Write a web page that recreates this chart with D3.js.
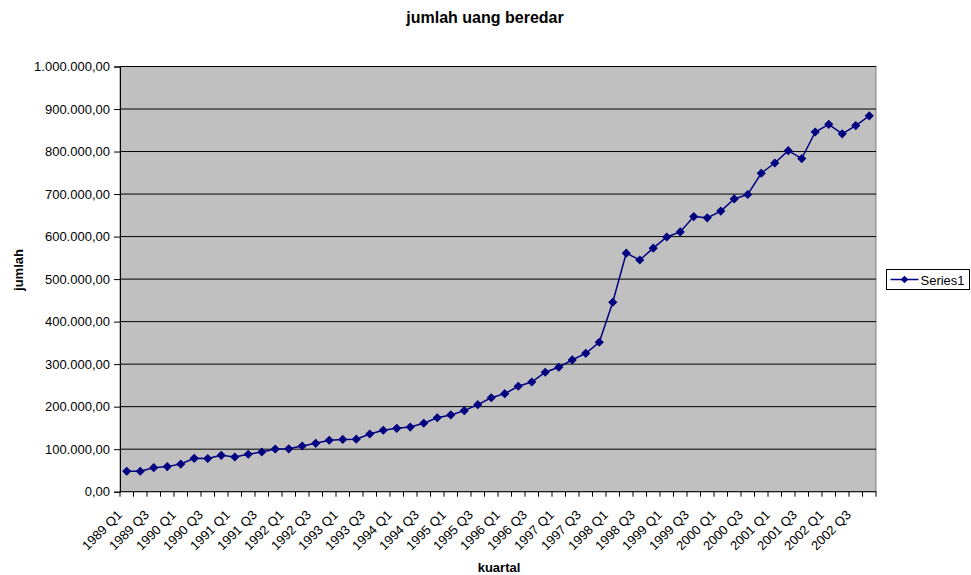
<!DOCTYPE html>
<html>
<head>
<meta charset="utf-8">
<script src="https://cdn.jsdelivr.net/npm/d3@7/dist/d3.min.js"></script>
<style>
  html, body { margin: 0; padding: 0; background: #ffffff; }
  svg { display: block; font-family: "Liberation Sans", Arial, sans-serif; }
</style>
</head>
<body>
<svg id="chart" width="971" height="575"></svg>
<script>
// Quarterly money supply (jumlah uang beredar), 1989 Q1 – 2002 Q4
const years = [1989, 1990, 1991, 1992, 1993, 1994, 1995, 1996, 1997, 1998, 1999, 2000, 2001, 2002];
const quarters = ["Q1", "Q2", "Q3", "Q4"];
const categories = years.flatMap(y => quarters.map(q => `${y} ${q}`));

const values = [
  48000, 48000, 56500, 59000, 65000, 78500, 78000, 85600,
  81600, 88000, 93400, 100400, 100800, 107500, 113800, 121000,
  123000, 123500, 135700, 144500, 149000, 152000, 161000, 174000,
  180500, 190600, 204700, 221000, 230600, 248000, 258000, 281000,
  292700, 310000, 325500, 351500, 445600, 561000, 545000, 572700,
  599000, 611000, 647000, 644000, 660000, 688500, 699000, 749000,
  773000, 802000, 783500, 846000, 864000, 841600, 861000, 884000
];

const yTicks = [0, 100000, 200000, 300000, 400000, 500000, 600000, 700000, 800000, 900000, 1000000];
const seriesName = "Series1";

const svg = d3.select("#chart");
const plot = { left: 120, right: 876, top: 66.5, bottom: 491.7 };

const x = d3.scaleBand().domain(categories).range([plot.left, plot.right]).paddingInner(0).paddingOuter(0);
const y = d3.scaleLinear().domain([0, 1000000]).range([plot.bottom, plot.top]);

const idLocale = d3.formatLocale({ decimal: ",", thousands: ".", grouping: [3], currency: ["", ""] });
const fmt = idLocale.format(",.2f");

// plot area background
svg.append("rect")
  .attr("x", plot.left).attr("y", plot.top)
  .attr("width", plot.right - plot.left).attr("height", plot.bottom - plot.top)
  .attr("fill", "#c0c0c0").attr("stroke", "#808080").attr("stroke-width", 1);

// horizontal gridlines
svg.append("g").selectAll("line").data(yTicks.filter(d => d > 0)).join("line")
  .attr("x1", plot.left).attr("x2", plot.right)
  .attr("y1", d => y(d)).attr("y2", d => y(d))
  .attr("stroke", "#000").attr("stroke-width", 1);

// y axis
const yAxis = svg.append("g")
  .attr("transform", `translate(${plot.left},0)`)
  .call(d3.axisLeft(y).tickValues(yTicks).tickFormat(fmt).tickSizeOuter(0).tickSize(6).tickPadding(4));
yAxis.select(".domain").attr("stroke", "#000");
yAxis.selectAll("text").attr("font-size", 13).attr("fill", "#000").attr("font-family", "Liberation Sans, Arial, sans-serif");

// x axis: ticks sit between categories
const xAxisG = svg.append("g").attr("transform", `translate(0,${plot.bottom})`);
xAxisG.append("line").attr("x1", plot.left).attr("x2", plot.right).attr("stroke", "#000");
const boundaries = categories.map(c => x(c)).concat([plot.right]);
xAxisG.selectAll("line.tk").data(boundaries).join("line").attr("class", "tk")
  .attr("x1", d => d).attr("x2", d => d).attr("y1", 0).attr("y2", 5).attr("stroke", "#000");
xAxisG.selectAll("text").data(categories.filter((c, i) => i % 2 === 0)).join("text")
  .attr("transform", c => `translate(${x(c) + x.bandwidth() / 2 - 4},${24}) rotate(-45)`)
  .attr("text-anchor", "end")
  .attr("font-size", 13)
  .text(c => c);

// line + diamond markers
const navy = "#000080";
const pts = categories.map((c, i) => [x(c) + x.bandwidth() / 2, y(values[i])]);
svg.append("path")
  .attr("d", d3.line()(pts))
  .attr("fill", "none").attr("stroke", navy).attr("stroke-width", 1.5);
const diamond = d3.symbol().type(d3.symbolSquare).size(30);
svg.append("g").selectAll("path").data(pts).join("path")
  .attr("d", diamond())
  .attr("transform", d => `translate(${d[0]},${d[1]}) rotate(45)`)
  .attr("fill", navy).attr("stroke", navy).attr("stroke-width", 1);

// titles
svg.append("text").attr("x", 485).attr("y", 23).attr("text-anchor", "middle")
  .attr("font-size", 16).attr("font-weight", "bold").text("jumlah uang beredar");
svg.append("text").attr("x", 499).attr("y", 572).attr("text-anchor", "middle")
  .attr("font-size", 13).attr("font-weight", "bold").text("kuartal");
svg.append("text").attr("transform", "translate(23,270) rotate(-90)").attr("text-anchor", "middle")
  .attr("font-size", 13).attr("font-weight", "bold").text("jumlah");

// legend
const lg = svg.append("g").attr("transform", "translate(886.5,269.5)");
lg.append("rect").attr("width", 83).attr("height", 20).attr("fill", "#fff").attr("stroke", "#000");
lg.append("line").attr("x1", 4).attr("x2", 32).attr("y1", 10).attr("y2", 10).attr("stroke", navy).attr("stroke-width", 1.5);
lg.append("path").attr("d", diamond()).attr("transform", "translate(18,10) rotate(45)").attr("fill", navy);
lg.append("text").attr("x", 34).attr("y", 15).attr("font-size", 13).text(seriesName);
</script>
</body>
</html>
